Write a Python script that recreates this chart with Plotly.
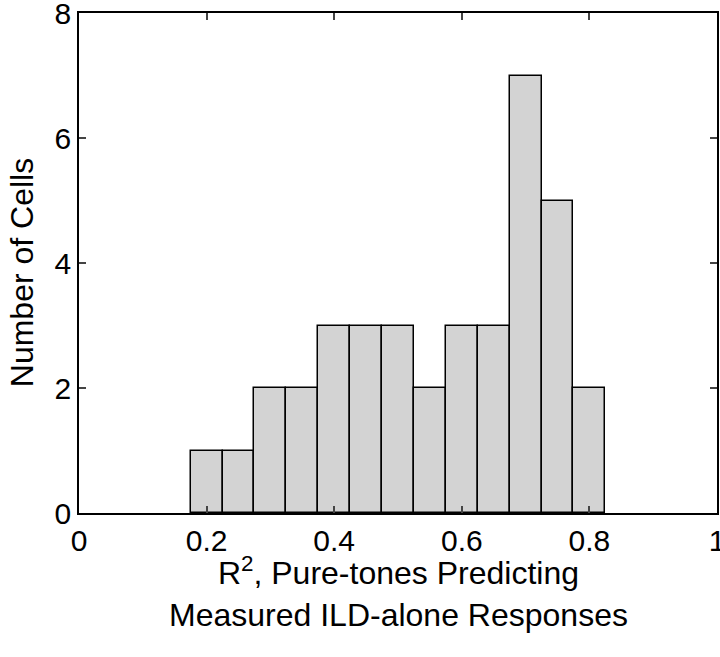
import plotly.graph_objects as go

# histogram bin centres and counts
bin_centers = [0.2, 0.25, 0.3, 0.35, 0.4, 0.45, 0.5, 0.55, 0.6, 0.65, 0.7, 0.75, 0.8]
counts = [1, 1, 2, 2, 3, 3, 3, 2, 3, 3, 7, 5, 2]
x_ticks = [0, 0.2, 0.4, 0.6, 0.8, 1]
x_tick_labels = ["0", "0.2", "0.4", "0.6", "0.8", "1"]
y_ticks = [0, 2, 4, 6, 8]

font_family = "Liberation Sans, Arial, Helvetica, sans-serif"

fig = go.Figure()
fig.add_trace(go.Bar(
    x=bin_centers,
    y=counts,
    width=0.05,
    marker=dict(color="#d3d3d3", line=dict(color="black", width=1.5)),
))

fig.update_layout(
    width=720,
    height=657,
    margin=dict(l=79, r=3, t=13, b=144),
    plot_bgcolor="white",
    paper_bgcolor="white",
    showlegend=False,
    bargap=0,
    font=dict(family=font_family, size=30, color="black"),
)

axis_style = dict(
    ticks="inside",
    ticklen=7,
    tickwidth=1.5,
    tickfont=dict(size=30),
    ticklabeloverflow="allow",
    showline=True,
    linecolor="black",
    linewidth=1.5,
    mirror="allticks",
    showgrid=False,
    zeroline=False,
    automargin=False,
)
fig.update_xaxes(range=[0, 1], tickvals=x_ticks, ticktext=x_tick_labels, **axis_style)
fig.update_yaxes(range=[0, 8], tickvals=y_ticks, **axis_style)

# axis titles as annotations so they sit where the original has them
fig.add_annotation(
    text="R<sup>2</sup>, Pure-tones Predicting<br>Measured ILD-alone Responses",
    xref="paper", yref="paper",
    x=0.5, y=-0.158,
    xanchor="center", yanchor="middle",
    showarrow=False,
    font=dict(size=32),
)
fig.add_annotation(
    text="Number of Cells",
    xref="paper", yref="paper",
    x=-0.089, y=0.48,
    xanchor="center", yanchor="middle",
    textangle=-90,
    showarrow=False,
    font=dict(size=32),
)

# drop the default 8px body margin so the figure fills the window
fig.write_html("out.html", config={"displayModeBar": False},
               post_script="document.body.style.margin='0';")
